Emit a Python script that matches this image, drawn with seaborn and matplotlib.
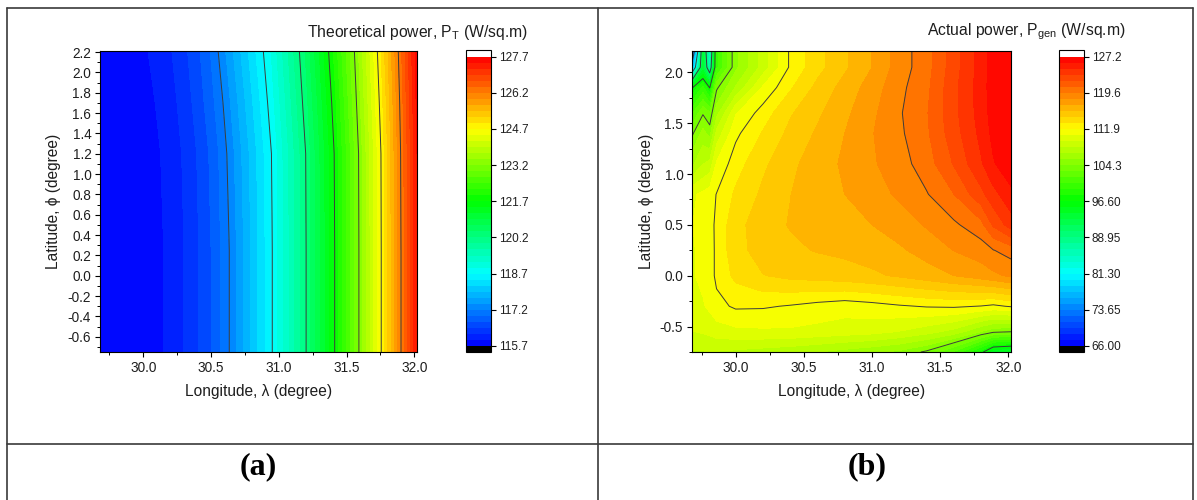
import numpy as np
import matplotlib
matplotlib.use("Agg")
import matplotlib.pyplot as plt
from matplotlib.lines import Line2D
from matplotlib.ticker import MultipleLocator, FormatStrFormatter
import seaborn as sns

# ---------------------------------------------------------------------------
# (a) Theoretical power P_T (W/sq.m) on a longitude x latitude grid
# ---------------------------------------------------------------------------
lon_pt = [29.68, 29.90, 30.15, 30.30, 30.41, 30.50, 30.57, 30.63, 30.95,
          31.20, 31.41, 31.59, 31.755, 31.90, 32.02]
lat_pt = [-0.75, 0.25, 1.20, 1.70, 2.21]
p_theoretical = [
    [115.80, 115.75, 115.95, 116.20, 116.45, 116.70, 116.95, 117.18, 118.69,
     120.19, 121.68, 123.19, 124.69, 126.18, 127.45],
    [115.80, 115.75, 115.95, 116.20, 116.45, 116.70, 116.95, 117.18, 118.69,
     120.19, 121.68, 123.19, 124.69, 126.18, 127.45],
    [115.80, 115.75, 115.97, 116.23, 116.49, 116.75, 117.00, 117.26, 118.72,
     120.21, 121.71, 123.21, 124.71, 126.21, 127.45],
    [115.80, 115.77, 116.01, 116.30, 116.58, 116.86, 117.12, 117.39, 118.85,
     120.35, 121.84, 123.34, 124.82, 126.28, 127.52],
    [115.80, 115.80, 116.08, 116.38, 116.67, 116.97, 117.28, 117.55, 118.99,
     120.49, 122.01, 123.46, 124.95, 126.38, 127.60],
]
cbar_ticks_pt = [115.7, 117.2, 118.7, 120.2, 121.7, 123.2, 124.7, 126.2, 127.7]
cbar_labels_pt = ["115.7", "117.2", "118.7", "120.2", "121.7", "123.2",
                  "124.7", "126.2", "127.7"]

# ---------------------------------------------------------------------------
# (b) Actual generated power P_gen (W/sq.m)
# ---------------------------------------------------------------------------
lon_pg = [29.68, 29.76, 29.81, 29.86, 30.0, 30.2, 30.4, 30.6, 30.8, 31.0,
          31.2, 31.4, 31.6, 31.8, 31.89, 32.02]
lat_pg = [-0.75, -0.55, -0.3, 0.0, 0.25, 0.5, 0.8, 1.1, 1.4, 1.6, 1.85,
          2.05, 2.21]
p_generated = [
    [108.0, 108.0, 108.0, 108.0, 107.8, 107.5, 107.2, 106.8, 106.3, 105.8,
     105.2, 104.0, 101.5, 97.2, 94.0, 93.5],
    [109.3, 109.5, 109.7, 110.0, 110.3, 110.4, 110.4, 110.2, 110.0, 109.8,
     109.3, 108.6, 107.6, 105.5, 104.6, 104.3],
    [110.2, 110.5, 110.9, 111.5, 112.1, 112.05, 111.8, 111.45, 111.15, 111.4,
     111.75, 112.0, 112.1, 111.85, 111.6, 112.05],
    [110.5, 110.9, 111.3, 112.2, 113.5, 114.4, 114.8, 115.0, 115.2, 115.5,
     115.9, 116.4, 117.0, 117.6, 118.0, 118.5],
    [110.5, 110.9, 111.3, 112.2, 114.0, 115.0, 115.5, 115.8, 116.0, 116.3,
     116.8, 117.5, 118.3, 118.9, 119.5, 120.1],
    [110.6, 111.0, 111.4, 112.2, 114.0, 115.2, 115.8, 116.3, 116.6, 117.0,
     117.6, 118.4, 119.3, 120.4, 122.3, 124.0],
    [110.4, 110.9, 111.3, 111.95, 113.4, 114.7, 115.7, 116.4, 117.0, 117.7,
     118.5, 119.45, 120.8, 123.0, 124.2, 125.6],
    [106.5, 108.0, 108.5, 110.8, 112.6, 114.2, 115.4, 116.4, 117.2, 118.1,
     119.0, 120.2, 122.2, 124.5, 125.8, 126.8],
    [104.0, 106.0, 105.0, 108.5, 111.6, 113.3, 114.8, 115.9, 117.0, 118.2,
     119.3, 120.6, 122.8, 125.0, 126.3, 127.1],
    [101.5, 104.1, 103.2, 106.3, 110.5, 112.5, 114.3, 115.5, 116.7, 118.0,
     119.4, 120.7, 123.0, 125.2, 126.5, 127.1],
    [96.4, 99.5, 96.5, 104.0, 106.9, 110.8, 113.0, 114.8, 116.2, 117.6,
     119.2, 120.5, 123.0, 125.3, 126.6, 127.1],
    [76.0, 93.0, 86.0, 100.0, 105.2, 108.6, 112.1, 114.0, 115.5, 117.0,
     118.9, 120.3, 122.8, 125.2, 126.6, 127.1],
    [68.0, 93.0, 84.0, 100.0, 105.2, 108.6, 112.1, 114.0, 115.5, 117.0,
     118.9, 120.3, 122.8, 125.2, 126.6, 127.1],
]
cbar_ticks_pg = [66.0, 73.65, 81.3, 88.95, 96.6, 104.25, 111.9, 119.55, 127.2]
cbar_labels_pg = ["66.00", "73.65", "81.30", "88.95", "96.60", "104.3",
                  "111.9", "119.6", "127.2"]

# ---------------------------------------------------------------------------
# styling
# ---------------------------------------------------------------------------
sns.set_theme(style="ticks")
plt.rcParams["font.family"] = ["Liberation Sans", "DejaVu Sans"]
plt.rcParams["mathtext.fontset"] = "custom"
plt.rcParams["mathtext.rm"] = "Liberation Sans"
plt.rcParams["mathtext.it"] = "Liberation Sans:italic"
plt.rcParams["mathtext.bf"] = "Liberation Sans:bold"
plt.rcParams["axes.unicode_minus"] = False

TEXT = "#1e1e1e"
rainbow = sns.blend_palette(["#0000ff", "#00ffff", "#00ff00", "#ffff00", "#ff0000"],
                            n_colors=256, as_cmap=True)
rainbow = rainbow.with_extremes(over="white", under="black")

W, H = 1197, 500
fig = plt.figure(figsize=(W / 100, H / 100), dpi=100)
fig.patch.set_facecolor("white")


def px_axes(x0, y0, x1, y1):
    return fig.add_axes([x0 / W, 1 - y1 / H, (x1 - x0) / W, (y1 - y0) / H])


def draw_panel(ax, cax, lon, lat, values, ticks, labels, ymajor, yminor):
    z = np.array(values)
    levels = np.linspace(ticks[0], ticks[-1], 49)
    cf = ax.contourf(lon, lat, z, levels=levels, cmap=rainbow, extend="both")
    ax.contour(lon, lat, z, levels=ticks[1:-1], colors="#3c3c3c",
               linewidths=0.7)
    ax.set_xlim(29.68, 32.02)
    ax.set_ylim(-0.75, 2.21)
    ax.xaxis.set_major_locator(MultipleLocator(0.5))
    ax.xaxis.set_minor_locator(MultipleLocator(0.25))
    ax.yaxis.set_major_locator(MultipleLocator(ymajor))
    ax.yaxis.set_minor_locator(MultipleLocator(yminor))
    ax.xaxis.set_major_formatter(FormatStrFormatter("%.1f"))
    ax.yaxis.set_major_formatter(FormatStrFormatter("%.1f"))
    ax.tick_params(which="major", direction="out", length=3.8, width=0.8,
                   labelsize=9.8, colors="black", labelcolor=TEXT, pad=2.5,
                   top=False, right=False)
    ax.tick_params(which="minor", direction="out", length=2.2, width=0.7,
                   colors="black", top=False, right=False)
    for sp in ax.spines.values():
        sp.set_color("black")
        sp.set_linewidth(0.8)
    ax.set_xlabel("Longitude, λ (degree)", fontsize=11.2, color=TEXT)
    ax.set_ylabel("Latitude, ϕ (degree)", fontsize=11.2, color=TEXT)
    ax.xaxis.set_label_coords(0.5, -0.105)

    cb = fig.colorbar(cf, cax=cax, extend="both", extendrect=True,
                      extendfrac=0.021)
    cb.set_ticks(ticks)
    cb.set_ticklabels(labels)
    cb.ax.tick_params(direction="out", length=3.6, width=0.8, labelsize=8.5,
                      colors="black", labelcolor=TEXT, pad=2)
    cb.ax.minorticks_off()
    cb.outline.set_edgecolor("black")
    cb.outline.set_linewidth(0.8)
    return cf


ax_a = px_axes(100, 51, 417, 352)
cax_a = px_axes(466, 50.5, 491, 352)
draw_panel(ax_a, cax_a, lon_pt, lat_pt, p_theoretical, cbar_ticks_pt,
           cbar_labels_pt, 0.2, 0.1)
ax_a.yaxis.set_label_coords(-0.124, 0.5)

ax_b = px_axes(692, 51, 1011, 352)
cax_b = px_axes(1059, 50.5, 1084, 352)
draw_panel(ax_b, cax_b, lon_pg, lat_pg, p_generated, cbar_ticks_pg,
           cbar_labels_pg, 0.5, 0.25)
ax_b.yaxis.set_label_coords(-0.118, 0.5)

# colour-scale titles
fig.text(528 / W, 1 - 36.5 / H, r"Theoretical power, P$_\mathregular{T}$ (W/sq.m)",
         ha="right", va="baseline", fontsize=11.3, color=TEXT)
fig.text(1126 / W, 1 - 35.5 / H, r"Actual power, P$_\mathregular{gen}$ (W/sq.m)",
         ha="right", va="baseline", fontsize=11.3, color=TEXT)

# panel captions
fig.text(258 / W, 1 - 467 / H, "(a)", ha="center", va="center",
         fontsize=23, fontweight="bold", family="Liberation Serif", color="black")
fig.text(867 / W, 1 - 467 / H, "(b)", ha="center", va="center",
         fontsize=23, fontweight="bold", family="Liberation Serif", color="black")

# table frame around the two panels
frame = dict(color="#3a3a3a", linewidth=1.2, transform=fig.transFigure)
for (x0, y0), (x1, y1) in [((7, 8), (1193, 8)), ((7, 8), (7, 500)),
                           ((1193, 8), (1193, 500)), ((598, 8), (598, 500)),
                           ((7, 444), (1193, 444))]:
    fig.add_artist(Line2D([x0 / W, x1 / W], [1 - y0 / H, 1 - y1 / H], **frame))

fig.savefig("out.png", dpi=100, facecolor="white")
